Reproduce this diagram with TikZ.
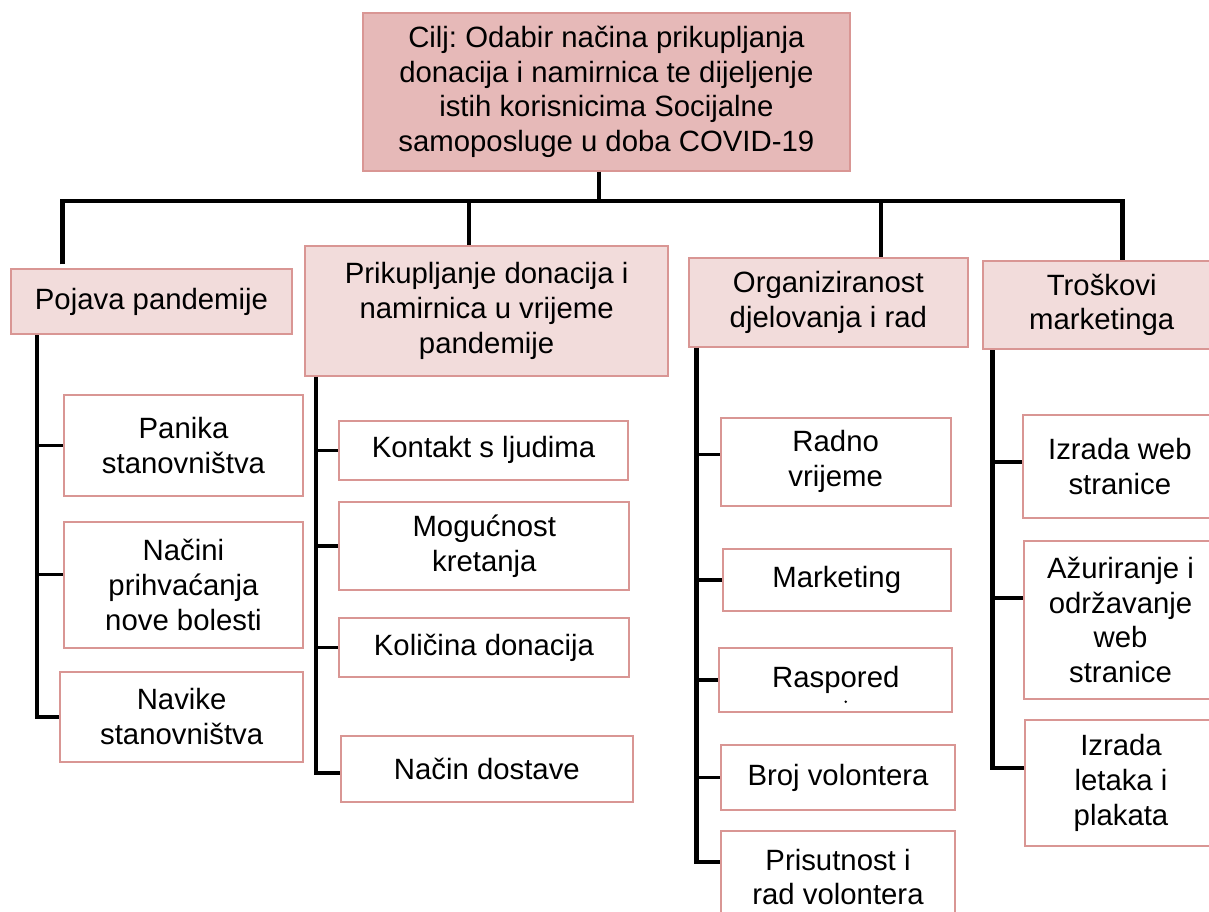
\documentclass[tikz,border=0pt]{standalone}
\usepackage{fontspec}
\setmainfont{Liberation Sans}
\frenchspacing
\definecolor{bordc}{HTML}{D99694}
\definecolor{headfill}{HTML}{F2DCDB}
\definecolor{goalfill}{HTML}{E6B9B8}
\newcommand\pbox[7]{\node[#6, minimum width={(#4-#2)*0.75pt}, minimum height={(#5-#3)*0.75pt}] (#1) at ({(#2+#4)/2},{(#3+#5)/2}) {#7};}
\tikzset{
  basebox/.style={draw=bordc, line width=1.5pt, align=center, inner sep=0pt,
    font={\fontsize{22}{26}\selectfont\frenchspacing}, text=black},
  goalbox/.style={basebox, fill=goalfill},
  headbox/.style={basebox, fill=headfill},
  leafbox/.style={basebox, fill=white},
  tree/.style={line width=3.2pt, black},
  twig/.style={line width=2.7pt, black}
}
\begin{document}
\begin{tikzpicture}[x=0.75pt,y=-0.75pt]
\useasboundingbox (0,0) rectangle (1209,911);
\clip (0,0) rectangle (1209,911);
\fill[white] (0,0) rectangle (1209,911);
% goal
\pbox{goal}{362.7}{13.3}{850}{170.7}{goalbox}{Cilj: Odabir načina prikupljanja\\donacija i namirnica te dijeljenje\\istih korisnicima Socijalne\\samoposluge u doba COVID-19}
% headers
\pbox{pp}{10.7}{269.3}{292.3}{334}{headbox}{Pojava pandemije}
\pbox{pk}{305}{246}{668.3}{375.7}{headbox}{Prikupljanje donacija i\\namirnica u vrijeme\\pandemije}
\pbox{org}{689}{258.3}{967.7}{346.7}{headbox}{Organiziranost\\djelovanja i rad}
\pbox{tr}{982.7}{260.7}{1220.7}{349}{headbox}{Troškovi\\marketinga}
% column 1
\pbox{panika}{64}{395}{303}{495.7}{leafbox}{Panika\\stanovništva}
\pbox{nacini}{64}{521.7}{303}{648.3}{leafbox}{Načini\\prihvaćanja\\nove bolesti}
\pbox{navike}{60.3}{671.7}{303}{761.7}{leafbox}{Navike\\stanovništva}
% column 2
\pbox{kontakt}{339.3}{420.7}{627.7}{480}{leafbox}{Kontakt s ljudima}
\pbox{moguc}{339.3}{502.3}{629.3}{590}{leafbox}{Mogućnost\\kretanja}
\pbox{kolicina}{339}{617.7}{629}{677.3}{leafbox}{Količina donacija}
\pbox{nacin}{341}{736}{632.7}{802}{leafbox}{Način dostave}
% column 3
\pbox{radno}{720.7}{417.7}{950.7}{505.7}{leafbox}{Radno\\vrijeme}
\pbox{marketing}{722.7}{549.3}{950.7}{611}{leafbox}{Marketing}
\pbox{raspored}{719.3}{648.3}{952.3}{711.7}{leafbox}{Raspored}
\pbox{broj}{720.7}{745}{955.3}{810}{leafbox}{Broj volontera}
\pbox{prisut}{720.7}{831}{955.3}{923}{leafbox}{Prisutnost i\\rad volontera}
% column 4
\pbox{izweb}{1022.7}{415}{1217}{518.3}{leafbox}{Izrada web\\stranice}
\pbox{azur}{1024}{540.7}{1217}{699}{leafbox}{Ažuriranje i\\održavanje\\web\\stranice}
\pbox{letak}{1025}{720}{1217}{846}{leafbox}{Izrada\\letaka i\\plakata}
\fill[black] (845.7,701.7) circle (1pt);
% top bar and stems
\coordinate (barY) at (600,201);
\coordinate (g0) at ([xshift=178pt]goal.south west);
\coordinate (s1) at ([xshift=39.5pt,yshift=3pt]pp.north west);
\coordinate (s2) at ([xshift=124pt]pk.north west);
\coordinate (s3) at ([xshift=145pt]org.north west);
\coordinate (s4) at ([xshift=105.5pt]tr.north west);
\draw[tree] (g0) -- (g0 |- barY);
\draw[tree, line join=miter] (s1) -- (s1 |- barY) -- (s4 |- barY) -- (s4);
\draw[tree] (s2 |- barY) -- (s2);
\draw[tree] (s3 |- barY) -- (s3);
% column 1 tree
\coordinate (v1) at ([xshift=20.5pt]pp.south west);
\coordinate (c12) at ([yshift=8pt]nacini.west);
\draw[tree, line join=miter] (v1) |- (navike.west);
\draw[twig] (panika.west -| v1) -- (panika.west);
\draw[twig] (c12 -| v1) -- (c12);
% column 2 tree
\coordinate (v2) at ([xshift=9pt]pk.south west);
\coordinate (c24) at ([yshift=-3pt]nacin.west);
\draw[tree, line join=miter] (v2) |- (c24);
\draw[twig] (kontakt.west -| v2) -- (kontakt.west);
\draw[twig] (moguc.west -| v2) -- (moguc.west);
\draw[twig] (kolicina.west -| v2) -- (kolicina.west);
% column 3 tree
\coordinate (v3) at ([xshift=6.4pt]org.south west);
\coordinate (c31) at ([yshift=5.5pt]radno.west);
\coordinate (c35) at ([yshift=11.5pt]prisut.west);
\draw[tree, line join=miter] (v3) |- (c35);
\draw[twig] (c31 -| v3) -- (c31);
\draw[twig] (marketing.west -| v3) -- (marketing.west);
\draw[twig] (raspored.west -| v3) -- (raspored.west);
\draw[twig] (broj.west -| v3) -- (broj.west);
% column 4 tree
\coordinate (v4) at ([xshift=8pt]tr.south west);
\coordinate (c41) at ([yshift=3.5pt]izweb.west);
\coordinate (c42) at ([yshift=16.5pt]azur.west);
\coordinate (c43) at ([yshift=11pt]letak.west);
\draw[tree, line join=miter] (v4) |- (c43);
\draw[twig] (c41 -| v4) -- (c41);
\draw[twig] (c42 -| v4) -- (c42);
\end{tikzpicture}
\end{document}
